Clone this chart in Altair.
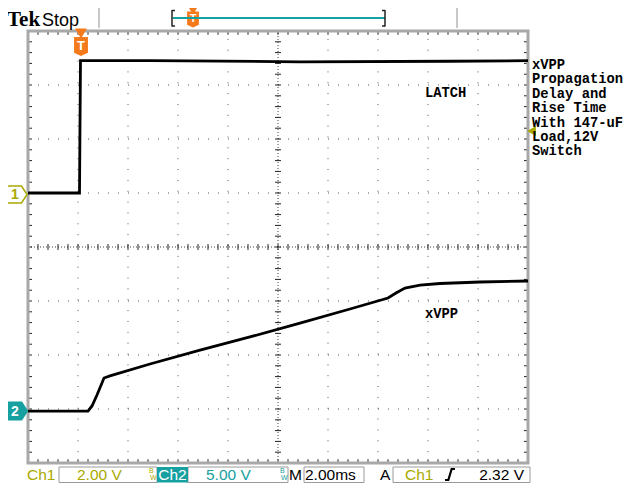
import altair as alt
import pandas as pd
import numpy as np

# Channel 1 (LATCH): 2.00 V/div, ground marker on +1 div
ch1_time_ms = [-2.08, -0.02, 0.0, 0.02, 2.8, 8.8, 14.8, 17.92]
ch1_volts = [0.0, 0.0, 2.5, 4.9, 4.9, 4.86, 4.88, 4.9]

# Channel 2 (xVPP): 5.00 V/div, ground marker on -3 div
ch2_time_ms = [-2.08, 0.32, 0.48, 0.68, 0.96, 1.2, 2.8, 4.8, 6.8, 8.8, 10.8,
               12.32, 12.64, 13.0, 13.6, 14.4, 16.0, 17.92]
ch2_volts = [-0.2, -0.2, 0.28, 1.3, 2.87, 3.06, 4.17, 5.46, 6.67, 7.96, 9.26,
             10.28, 10.74, 11.2, 11.48, 11.62, 11.76, 11.85]

ch1_name = "LATCH"
ch2_name = "xVPP"
note_lines = ["xVPP", "Propagation", "Delay and", "Rise Time",
              "With 147-uF", "Load,12V", "Switch"]
readout_ch1 = ["Ch1", "2.00 V"]
readout_ch2 = ["Ch2", "5.00 V"]
readout_time = ["M", "2.00ms"]
readout_trig = ["A", "Ch1", "2.32 V"]
header = ["Tek", "Stop"]

# ---------------- screen geometry ----------------
CH1_POS, CH1_VDIV = 1.0, 2.0
CH2_POS, CH2_VDIV = -3.0, 5.0
T0, T1 = -2.08, 17.92          # left / right graticule edge (ms)
MS_DIV = 2.0
W, H = 616, 475
X_DOM = [-2.88, -2.88 + W / 25.0]
Y_DOM = [4.426 - H / 54.0, 4.426]

OLIVE = "#a9a900"
TEAL = "#17a0a0"
ORANGE = "#f47a1c"
GRAY = "#a8a8a8"

xs = alt.Scale(domain=X_DOM, nice=False, zero=False)
ys = alt.Scale(domain=Y_DOM, nice=False, zero=False)


def X(f):
    return alt.X(f, type="quantitative", scale=xs, axis=None)


def Y(f):
    return alt.Y(f, type="quantitative", scale=ys, axis=None)


def P(v):  # page pixel -> chart pixel
    return v - 8


one = pd.DataFrame({"a": [0]})
layers = []

# ---------------- graticule ----------------
vmaj = [T0 + MS_DIV * k for k in range(1, 10) if k != 5]
hmaj = [d for d in range(-3, 4) if d != 0]
tc = T0 + 5 * MS_DIV

layers.append(alt.Chart(pd.DataFrame({"t": vmaj, "y0": -4.0, "y1": 4.0}))
              .mark_rule(color="#555", strokeWidth=1, strokeDash=[1, 9.85])
              .encode(x=X("t"), y=Y("y0"), y2="y1"))
layers.append(alt.Chart(pd.DataFrame({"d": hmaj, "t0": T0, "t1": T1}))
              .mark_rule(color="#555", strokeWidth=1, strokeDash=[1, 9])
              .encode(x=X("t0"), x2="t1", y=Y("d")))
# center cross
layers.append(alt.Chart(pd.DataFrame({"t": [tc], "y0": -4.0, "y1": 4.0}))
              .mark_rule(color="#444", strokeWidth=1, strokeDash=[1, 2])
              .encode(x=X("t"), y=Y("y0"), y2="y1"))
layers.append(alt.Chart(pd.DataFrame({"d": [0.0], "t0": T0, "t1": T1}))
              .mark_rule(color="#444", strokeWidth=1, strokeDash=[1, 2])
              .encode(x=X("t0"), x2="t1", y=Y("d")))

# minor ticks (every 0.2 div)
tx = np.round(np.arange(T0 + 0.4, T1 - 0.01, 0.4), 3)
ty = np.round(np.arange(-3.8, 3.81, 0.2), 3)
tick_v = pd.concat([
    pd.DataFrame({"t": tx, "y0": 4.0, "y1": 3.93}),
    pd.DataFrame({"t": tx, "y0": -4.0, "y1": -3.93}),
    pd.DataFrame({"t": tx, "y0": -0.055, "y1": 0.055}),
])
tick_h = pd.concat([
    pd.DataFrame({"d": ty, "t0": T0, "t1": T0 + 0.16}),
    pd.DataFrame({"d": ty, "t0": T1, "t1": T1 - 0.16}),
    pd.DataFrame({"d": ty, "t0": tc - 0.12, "t1": tc + 0.12}),
])
layers.append(alt.Chart(tick_v).mark_rule(color="#222", strokeWidth=1)
              .encode(x=X("t"), y=Y("y0"), y2="y1"))
layers.append(alt.Chart(tick_h).mark_rule(color="#222", strokeWidth=1)
              .encode(x=X("t0"), x2="t1", y=Y("d")))

# frame
layers.append(alt.Chart(pd.DataFrame({"t0": [T0], "t1": [T1], "y0": [-4.0], "y1": [4.0]}))
              .mark_rect(fill=None, filled=False, stroke=GRAY, strokeWidth=3)
              .encode(x=X("t0"), x2="t1", y=Y("y0"), y2="y1"))

# ---------------- traces ----------------
ch1 = pd.DataFrame({"t": ch1_time_ms, "v": ch1_volts})
ch1["d"] = CH1_POS + ch1["v"] / CH1_VDIV
ch1["o"] = range(len(ch1))
ch2 = pd.DataFrame({"t": ch2_time_ms, "v": ch2_volts})
ch2["d"] = CH2_POS + ch2["v"] / CH2_VDIV
ch2["o"] = range(len(ch2))
for df in (ch1, ch2):
    layers.append(alt.Chart(df).mark_line(color="black", strokeWidth=2.8)
                  .encode(x=X("t"), y=Y("d"), order="o:Q"))

# ---------------- markers ----------------
arrow_path = "M-1,-0.85L0.45,-0.85L1,0L0.45,0.85L-1,0.85Z"
layers.append(alt.Chart(one).mark_point(shape=arrow_path, size=400, filled=True,
                                        fill="white", stroke=OLIVE, strokeWidth=1.5, opacity=1)
              .encode(x=alt.value(P(17)), y=alt.value(P(194.5))))
layers.append(alt.Chart(one).mark_text(text="1", font="Liberation Sans", fontSize=14,
                                       fontWeight="bold", color=OLIVE)
              .encode(x=alt.value(P(15)), y=alt.value(P(195))))
layers.append(alt.Chart(one).mark_point(shape=arrow_path, size=400, filled=True,
                                        fill=TEAL, stroke=TEAL, opacity=1)
              .encode(x=alt.value(P(17)), y=alt.value(P(411))))
layers.append(alt.Chart(one).mark_text(text="2", font="Liberation Sans", fontSize=14,
                                       fontWeight="bold", color="white")
              .encode(x=alt.value(P(15)), y=alt.value(P(411.5))))

t_path = "M-0.7,-1L0.7,-1L0.7,0.65L0,1L-0.7,0.65Z"
for cx, cy, sz, ty_, tsz, fs in [(81, 46.5, 289, 33, 70, 13), (193, 19.5, 196, 10.5, 30, 11)]:
    layers.append(alt.Chart(one).mark_point(shape=t_path, size=sz, filled=True,
                                            fill=ORANGE, stroke=ORANGE, opacity=1)
                  .encode(x=alt.value(P(cx)), y=alt.value(P(cy))))
    layers.append(alt.Chart(one).mark_point(shape="triangle-down", size=tsz, filled=True,
                                            fill=ORANGE, stroke=ORANGE, opacity=1)
                  .encode(x=alt.value(P(cx)), y=alt.value(P(ty_))))
    layers.append(alt.Chart(one).mark_text(text="T", font="Liberation Sans", fontSize=fs,
                                           fontWeight="bold", color="white")
                  .encode(x=alt.value(P(cx)), y=alt.value(P(cy - 0.5))))

# trigger level arrow on right edge
layers.append(alt.Chart(one).mark_point(shape="triangle-left", size=45, filled=True,
                                        fill=OLIVE, stroke=OLIVE, opacity=1)
              .encode(x=alt.value(P(532)), y=alt.value(P(131))))

# ---------------- header ----------------
for x0 in (99, 457):
    layers.append(alt.Chart(one).mark_rule(color="#c8c8c8", strokeWidth=2)
                  .encode(x=alt.value(P(x0)), y=alt.value(P(8)), y2=alt.value(P(28))))
layers.append(alt.Chart(one).mark_rule(color=TEAL, strokeWidth=2)
              .encode(x=alt.value(P(173)), x2=alt.value(P(385)), y=alt.value(P(18))))
for xb, dx in ((172, 3), (385, -3)):
    layers.append(alt.Chart(one).mark_rule(color="#222", strokeWidth=1.5)
                  .encode(x=alt.value(P(xb)), y=alt.value(P(10)), y2=alt.value(P(26.5))))
    for yb in (10.5, 26):
        layers.append(alt.Chart(one).mark_rule(color="#222", strokeWidth=1.5)
                      .encode(x=alt.value(P(xb)), x2=alt.value(P(xb + dx)), y=alt.value(P(yb))))
layers.append(alt.Chart(one).mark_text(text=header[0], font="Liberation Serif", fontSize=21,
                                       fontWeight="bold", color="black", align="left",
                                       baseline="alphabetic")
              .encode(x=alt.value(P(7)), y=alt.value(P(25.5))))
layers.append(alt.Chart(one).mark_text(text=header[1], font="Liberation Sans", fontSize=18,
                                       color="black", align="left", baseline="alphabetic")
              .encode(x=alt.value(P(42)), y=alt.value(P(25.5))))

# ---------------- trace labels / notes ----------------
mono = dict(font="Liberation Mono", fontWeight="bold", fontSize=13.8, color="black",
            align="left", baseline="middle")
layers.append(alt.Chart(one).mark_text(text=ch1_name, **mono)
              .encode(x=alt.value(P(425)), y=alt.value(P(93))))
layers.append(alt.Chart(one).mark_text(text=ch2_name, **mono)
              .encode(x=alt.value(P(425)), y=alt.value(P(314))))
NOTE_Y0, NOTE_DY = 65.0, 14.4
for i, line in enumerate(note_lines):
    layers.append(alt.Chart(one).mark_text(text=line, **mono)
                  .encode(x=alt.value(P(532)), y=alt.value(P(NOTE_Y0 + NOTE_DY * i))))

# ---------------- readout bar ----------------
BAR_TOP, BAR_BOT, BAR_BASE = 467, 482.5, 479.5
for x0, x1 in ((59, 157), (188, 288), (304, 364), (393, 530)):
    layers.append(alt.Chart(one).mark_rect(fill="white", stroke="#9a9a9a", strokeWidth=1)
                  .encode(x=alt.value(P(x0)), x2=alt.value(P(x1)),
                          y=alt.value(P(BAR_TOP)), y2=alt.value(P(BAR_BOT))))
layers.append(alt.Chart(one).mark_rect(fill=TEAL)
              .encode(x=alt.value(P(157)), x2=alt.value(P(188)),
                      y=alt.value(P(BAR_TOP)), y2=alt.value(P(BAR_BOT))))

sans = dict(font="Liberation Sans", fontSize=15.5, baseline="alphabetic")
bar_texts = [
    (readout_ch1[0], 27, "left", OLIVE),
    (readout_ch1[1], 77, "left", OLIVE),
    (readout_ch2[0], 172.5, "center", "white"),
    (readout_ch2[1], 206, "left", TEAL),
    (readout_time[0], 289, "left", "black"),
    (readout_time[1], 305, "left", "black"),
    (readout_trig[0], 380, "left", "black"),
    (readout_trig[1], 405, "left", OLIVE),
    (readout_trig[2], 524, "right", "black"),
]
for txt, x0, al, col in bar_texts:
    layers.append(alt.Chart(one).mark_text(text=txt, align=al, color=col, **sans)
                  .encode(x=alt.value(P(x0)), y=alt.value(P(BAR_BASE))))
# bandwidth-limit glyphs
for x0, col in ((149, OLIVE), (280, TEAL)):
    layers.append(alt.Chart(one).mark_text(text="B", font="Liberation Sans", fontSize=7,
                                           color=col, align="left")
                  .encode(x=alt.value(P(x0)), y=alt.value(P(471))))
    layers.append(alt.Chart(one).mark_text(text="W", font="Liberation Sans", fontSize=7,
                                           color=col, align="left")
                  .encode(x=alt.value(P(x0 + 1)), y=alt.value(P(477.5))))
# rising-edge glyph
layers.append(alt.Chart(one).mark_point(shape="M-0.9,1L-0.3,1L0.3,-1L0.9,-1", size=121,
                                        filled=False, stroke="black", strokeWidth=2.2, opacity=1)
              .encode(x=alt.value(P(450)), y=alt.value(P(474.5))))

chart = alt.layer(*layers).properties(
    width=W, height=H, padding=0,
    autosize=alt.AutoSizeParams(type="none"),
    background="white",
).configure_view(strokeWidth=0)

chart.save("out.html", embed_options={"renderer": "svg", "actions": False})
